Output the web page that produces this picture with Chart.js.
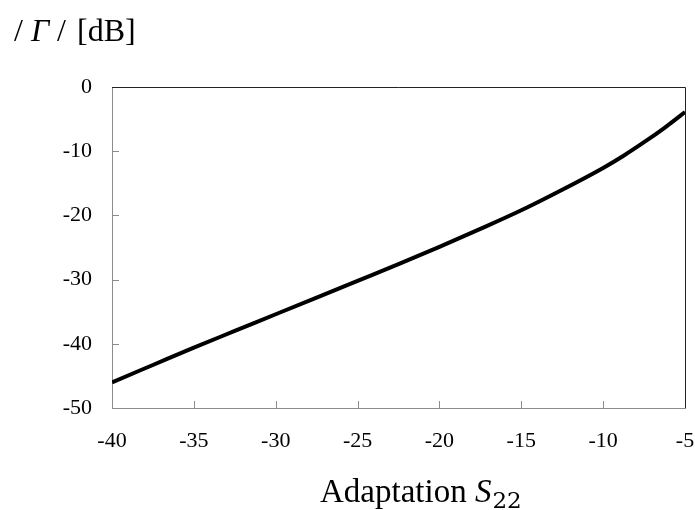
<!DOCTYPE html>
<html>
<head>
<meta charset="utf-8">
<script src="https://cdn.jsdelivr.net/npm/chart.js@4/dist/chart.umd.min.js"></script>
<style>
  html, body { margin: 0; padding: 0; background: #fff; }
  canvas { display: block; }
</style>
</head>
<body>
<canvas id="chart" width="695" height="510"></canvas>
<script>
// values
const s22Values = [-40, -37.5, -35, -32.5, -30, -27.5, -25, -22.5, -20, -17.5, -15, -12.5, -10, -8.75, -7.5, -6.25, -5];
const gammaDb = [-46.0, -43.3, -40.6, -38.0, -35.4, -32.8, -30.2, -27.6, -24.9, -22.1, -19.2, -16.0, -12.6, -10.7, -8.6, -6.35, -3.9];
const xTicks = [-40, -35, -30, -25, -20, -15, -10, -5];
const yTicks = [0, -10, -20, -30, -40, -50];

const serif = '"Liberation Serif", "Times New Roman", serif';
const axisGray = "#8c8c8c";

// inner tick marks, top/right frame and the two rich-text titles
const framePlugin = {
  id: "frame",
  afterDraw(chart) {
    const { ctx, chartArea: a, scales } = chart;
    ctx.save();
    ctx.lineWidth = 1;
    ctx.strokeStyle = axisGray;
    ctx.beginPath();
    xTicks.forEach((v) => {
      const px = Math.round(scales.x.getPixelForValue(v)) + 0.5;
      ctx.moveTo(px, a.bottom);
      ctx.lineTo(px, a.bottom - 7);
    });
    yTicks.forEach((v) => {
      const py = Math.round(scales.y.getPixelForValue(v)) + 0.5;
      ctx.moveTo(a.left, py);
      ctx.lineTo(a.left + 7, py);
    });
    ctx.stroke();

    ctx.strokeStyle = "#222";
    ctx.beginPath();
    ctx.moveTo(a.left, a.top + 0.5);
    ctx.lineTo(a.right + 0.5, a.top + 0.5);
    ctx.lineTo(a.right + 0.5, a.bottom);
    ctx.stroke();

    ctx.fillStyle = "#000";
    ctx.textBaseline = "alphabetic";
    ctx.textAlign = "left";

    // y title: / Γ / [dB]
    const yBase = 41;
    ctx.font = `normal 32px ${serif}`;
    ctx.fillText("/", 14, yBase);
    ctx.fillText("/", 57, yBase);
    ctx.fillText("[dB]", 77, yBase);
    ctx.font = `italic 32px ${serif}`;
    ctx.fillText("Γ", 31, yBase);

    // x title: Adaptation S22
    let x = 320;
    const xBase = 502;
    ctx.font = `normal 33px ${serif}`;
    ctx.fillText("Adaptation ", x, xBase);
    x += ctx.measureText("Adaptation ").width;
    ctx.font = `italic 33px ${serif}`;
    ctx.fillText("S", x, xBase);
    x += ctx.measureText("S").width + 1;
    ctx.font = `normal 23px "DejaVu Serif", ${serif}`;
    ctx.fillText("22", x, xBase + 6);
    ctx.restore();
  },
};

new Chart(document.getElementById("chart"), {
  type: "line",
  data: {
    datasets: [
      {
        label: "|Γ|",
        data: s22Values.map((v, i) => ({ x: v, y: gammaDb[i] })),
        borderColor: "#000",
        borderWidth: 4,
        pointRadius: 0,
        cubicInterpolationMode: "monotone",
        fill: false,
      },
    ],
  },
  options: {
    responsive: false,
    animation: false,
    devicePixelRatio: 1,
    layout: { padding: { top: 87, right: 10, left: 0, bottom: 0 } },
    plugins: {
      legend: { display: false },
      tooltip: { enabled: false },
    },
    scales: {
      x: {
        type: "linear",
        min: -40,
        max: -5,
        afterFit: (scale) => {
          scale.height = 102;
          scale.paddingLeft = 0;
          scale.paddingRight = 0;
        },
        afterBuildTicks: (scale) => { scale.ticks = xTicks.map((v) => ({ value: v })); },
        grid: { display: false, drawTicks: false },
        border: { display: true, color: axisGray, width: 1 },
        ticks: { color: "#000", padding: 20, maxRotation: 0, font: { family: serif, size: 22 } },
      },
      y: {
        type: "linear",
        min: -50,
        max: 0,
        afterFit: (scale) => {
          scale.width = 112;
          scale.paddingTop = 0;
          scale.paddingBottom = 0;
        },
        afterBuildTicks: (scale) => { scale.ticks = yTicks.map((v) => ({ value: v })); },
        grid: { display: false, drawTicks: false },
        border: { display: true, color: axisGray, width: 1 },
        ticks: { color: "#000", padding: 20, font: { family: serif, size: 22 } },
      },
    },
  },
  plugins: [framePlugin],
});
</script>
</body>
</html>
